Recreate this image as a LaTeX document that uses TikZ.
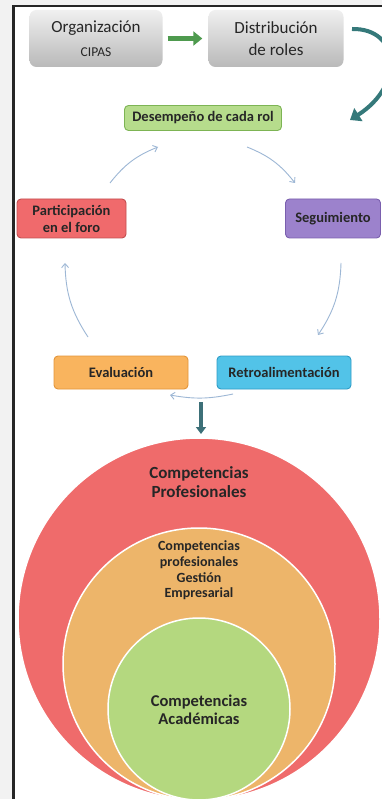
\documentclass[tikz,border=0pt]{standalone}
\usepackage{fontspec}
\setmainfont{Carlito}
\usetikzlibrary{arrows.meta}
\definecolor{desfill}{HTML}{B6DC8C}\definecolor{desline}{HTML}{7DB454}
\definecolor{partfill}{HTML}{F06A6C}\definecolor{partline}{HTML}{C24E50}
\definecolor{segfill}{HTML}{9C82CC}\definecolor{segline}{HTML}{7A5FAE}
\definecolor{evafill}{HTML}{F9B45E}\definecolor{evaline}{HTML}{E3953A}
\definecolor{retrofill}{HTML}{52C3E8}\definecolor{retroline}{HTML}{2E9CC6}
\definecolor{loopblue}{HTML}{9DB7D5}
\definecolor{linkgreen}{HTML}{4E9A4E}\definecolor{linkteal}{HTML}{35797A}\definecolor{dropteal}{HTML}{3D7078}
\definecolor{ringred}{HTML}{EF6B6B}\definecolor{ringorange}{HTML}{EDB56A}\definecolor{ringgreen}{HTML}{B4D87F}
\begin{document}
\begin{tikzpicture}[x=1pt, y=-1pt,
  grayblock/.style={rounded corners=7pt, top color=gray!12, bottom color=gray!55, minimum height=57pt, inner sep=0pt, align=center, font=\fontsize{17}{25}\selectfont, text=black!85},
  stage/.style={rounded corners=4pt, line width=0.9pt, inner sep=0pt, align=center, font=\bfseries\fontsize{14.5}{17}\selectfont, text=black!85},
  cyc/.style={-{Straight Barb[length=4pt,width=7pt]}, line width=0.9pt, loopblue},
  ring/.style={circle, draw=white, line width=1.5pt, inner sep=0pt},
  ringtext/.style={align=center, text=black!85}]
\clip (0,0) rectangle (382,799);
\fill[gray!10] (0,0) rectangle (382,799); \fill[white] (14,7) rectangle (382,799);
\draw[black!85, line width=2.5pt] (13.5,799) -- (13.5,6) -- (382,6);
% top row
\node[grayblock, minimum width=133pt] (org) at (96,38.5) {Organización\\[-1pt]{\fontsize{13.5}{15}\selectfont CIPAS}};
\node[grayblock, minimum width=135pt] (dist) at (276,38.5) {Distribución\\[-3pt]de roles};
\draw[linkgreen, line width=5pt, -{Triangle[length=9pt,width=14pt]}, shorten <=5pt, shorten >=6pt] (org.east) -- (dist.west);
\coordinate (hookStart) at (352,29); \coordinate (hookEnd) at (350,120);
\draw[linkteal, line width=4pt, -{Triangle[length=10pt,width=15pt]}] (hookStart) .. controls (400,28) and (405,85) .. (hookEnd);
% cycle
\node[stage, fill=desfill, draw=desline, minimum width=157pt, minimum height=25pt] (des) at (203,118) {Desempeño de cada rol};
\node[stage, fill=partfill, draw=partline, minimum width=109pt, minimum height=39pt] (part) at (71.5,218.5) {Participación\\en el foro};
\node[stage, fill=segfill, draw=segline, minimum width=95pt, minimum height=39pt] (seg) at (333,218.5) {Seguimiento};
\node[stage, fill=evafill, draw=evaline, minimum width=134pt, minimum height=33pt] (eva) at (121,372.5) {Evaluación};
\node[stage, fill=retrofill, draw=retroline, minimum width=134pt, minimum height=33pt] (retro) at (284,372.5) {Retroalimentación};
\coordinate (desOut) at (247,147); \coordinate (segIn) at (295,183);
\coordinate (segOut) at (341,263); \coordinate (retroIn) at (318,335);
\coordinate (retroOut) at (233,394); \coordinate (evaIn) at (170,395);
\coordinate (evaOut) at (88,337); \coordinate (partIn) at (65,263);
\coordinate (partOut) at (110,183); \coordinate (desIn) at (158,147);
\draw[cyc] (desOut) to[bend left=15] (segIn);
\draw[cyc] (segOut) to[bend left=16] (retroIn);
\draw[cyc] (retroOut) to[bend left=11] (evaIn);
\draw[cyc] (evaOut) to[bend left=16] (partIn);
\draw[cyc] (partOut) to[bend left=15] (desIn);
% nested competences
\node[ring, fill=ringred, minimum size=362pt] (outer) at (199,619) {};
\node[ring, fill=ringorange, minimum size=272pt] (middle) at (199,664) {};
\node[ring, fill=ringgreen, minimum size=182pt] (inner) at (199,709) {};
\node[ringtext, font=\bfseries\fontsize{17}{19.5}\selectfont] (outerTxt) at (199,482) {Competencias\\Profesionales};
\node[ringtext, font=\bfseries\fontsize{14}{15.7}\selectfont] (middleTxt) at (199,570.5) {Competencias\\profesionales\\Gestión\\Empresarial};
\node[ringtext, font=\bfseries\fontsize{16.5}{18}\selectfont] (innerTxt) at (199,710) {Competencias\\Académicas};
\coordinate (dropTop) at (201,402); \coordinate (dropEnd) at (201,434);
\draw[dropteal, line width=3.5pt, -{Triangle[length=7pt,width=10pt]}] (dropTop) -- (dropEnd);
\end{tikzpicture}
\end{document}
